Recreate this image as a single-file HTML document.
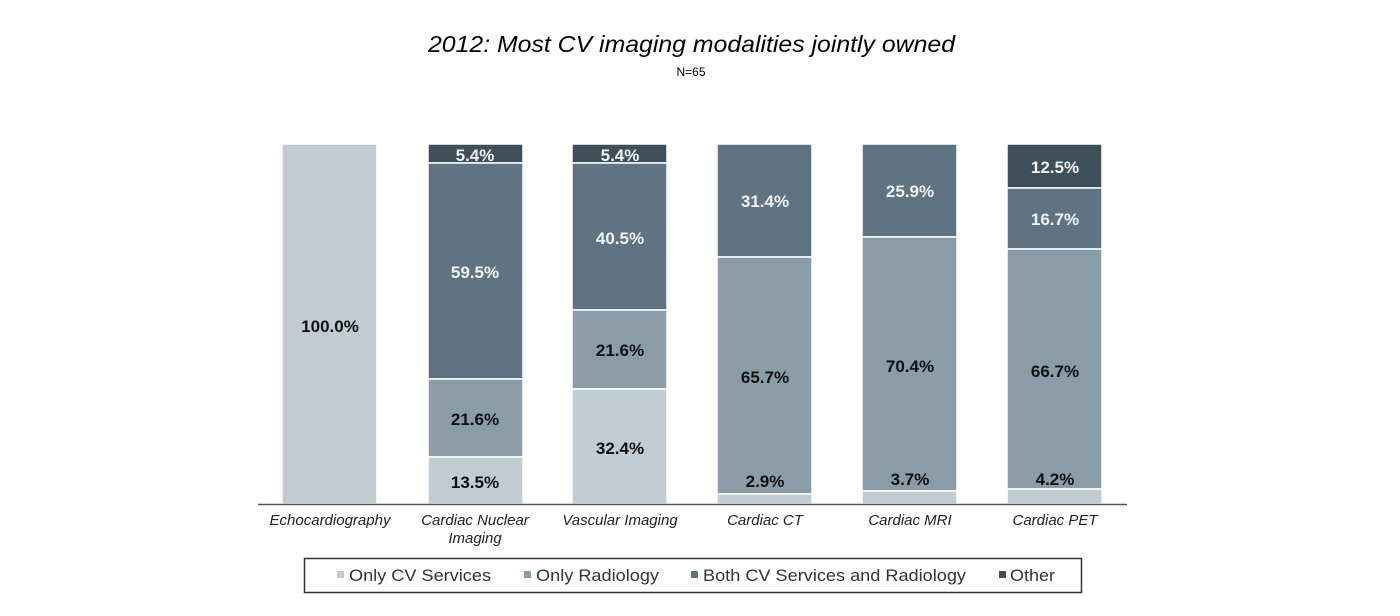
<!DOCTYPE html>
<html><head><style>
html,body{margin:0;padding:0;background:#fff;width:1400px;height:616px;overflow:hidden}
svg{display:block}
text{font-family:"Liberation Sans",Arial,sans-serif}
</style></head><body>
<svg width="1400" height="616" viewBox="0 0 1400 616">
<text x="428" y="52" font-size="23" font-style="italic" fill="#000" textLength="527" lengthAdjust="spacingAndGlyphs">2012: Most CV imaging modalities jointly owned</text>
<text x="691" y="76" font-size="12" text-anchor="middle" fill="#000">N=65</text>
<g stroke="#fff" stroke-width="1.5">
<rect x="282" y="144" width="95" height="360" fill="#c0cbd2"/>
<rect x="428" y="144" width="95" height="19" fill="#3f4f5a"/>
<rect x="428" y="163" width="95" height="216" fill="#5f7482"/>
<rect x="428" y="379" width="95" height="78" fill="#8a9ca8"/>
<rect x="428" y="457" width="95" height="47" fill="#c0cbd2"/>
<rect x="572" y="144" width="95" height="19" fill="#3f4f5a"/>
<rect x="572" y="163" width="95" height="147" fill="#5f7482"/>
<rect x="572" y="310" width="95" height="79" fill="#8a9ca8"/>
<rect x="572" y="389" width="95" height="115" fill="#c0cbd2"/>
<rect x="717" y="144" width="95" height="113" fill="#5f7482"/>
<rect x="717" y="257" width="95" height="237" fill="#8a9ca8"/>
<rect x="717" y="494" width="95" height="10" fill="#c0cbd2"/>
<rect x="862" y="144" width="95" height="93" fill="#5f7482"/>
<rect x="862" y="237" width="95" height="254" fill="#8a9ca8"/>
<rect x="862" y="491" width="95" height="13" fill="#c0cbd2"/>
<rect x="1007" y="144" width="95" height="44" fill="#3f4f5a"/>
<rect x="1007" y="188" width="95" height="61" fill="#5f7482"/>
<rect x="1007" y="249" width="95" height="240" fill="#8a9ca8"/>
<rect x="1007" y="489" width="95" height="15" fill="#c0cbd2"/>
</g>
<line x1="258" y1="504.5" x2="1127" y2="504.5" stroke="#555" stroke-width="1.5"/>
<g font-size="17" font-weight="bold" text-anchor="middle">
<text x="330" y="332" fill="#111">100.0%</text>
<text x="475" y="161" fill="#f2f2f2">5.4%</text>
<text x="475" y="278" fill="#f2f2f2">59.5%</text>
<text x="475" y="425" fill="#111">21.6%</text>
<text x="475" y="488" fill="#111">13.5%</text>
<text x="620" y="161" fill="#f2f2f2">5.4%</text>
<text x="620" y="244" fill="#f2f2f2">40.5%</text>
<text x="620" y="356" fill="#111">21.6%</text>
<text x="620" y="454" fill="#111">32.4%</text>
<text x="765" y="207" fill="#f2f2f2">31.4%</text>
<text x="765" y="383" fill="#111">65.7%</text>
<text x="765" y="487" fill="#111">2.9%</text>
<text x="910" y="197" fill="#f2f2f2">25.9%</text>
<text x="910" y="372" fill="#111">70.4%</text>
<text x="910" y="485" fill="#111">3.7%</text>
<text x="1055" y="173" fill="#f2f2f2">12.5%</text>
<text x="1055" y="225" fill="#f2f2f2">16.7%</text>
<text x="1055" y="377" fill="#111">66.7%</text>
<text x="1055" y="485" fill="#111">4.2%</text>
</g>
<g font-size="15" font-style="italic" text-anchor="middle" fill="#222">
<text x="330" y="525">Echocardiography</text>
<text x="475" y="525">Cardiac Nuclear</text>
<text x="475" y="543">Imaging</text>
<text x="620" y="525">Vascular Imaging</text>
<text x="765" y="525">Cardiac CT</text>
<text x="910" y="525">Cardiac MRI</text>
<text x="1055" y="525">Cardiac PET</text>
</g>
<rect x="304.5" y="558.5" width="777" height="34" fill="none" stroke="#333" stroke-width="1.5"/>
<g font-size="17" fill="#333">
<rect x="337" y="571" width="7" height="7" fill="#c0cbd2"/><text x="349" y="581" textLength="142" lengthAdjust="spacingAndGlyphs">Only CV Services</text>
<rect x="524" y="571" width="7" height="7" fill="#8a9ca8"/><text x="536" y="581" textLength="123" lengthAdjust="spacingAndGlyphs">Only Radiology</text>
<rect x="691" y="571" width="7" height="7" fill="#5f7482"/><text x="703" y="581" textLength="263" lengthAdjust="spacingAndGlyphs">Both CV Services and Radiology</text>
<rect x="999" y="571" width="7" height="7" fill="#3f4f5a"/><text x="1010" y="581" textLength="45" lengthAdjust="spacingAndGlyphs">Other</text>
</g>
</svg>
</body></html>
